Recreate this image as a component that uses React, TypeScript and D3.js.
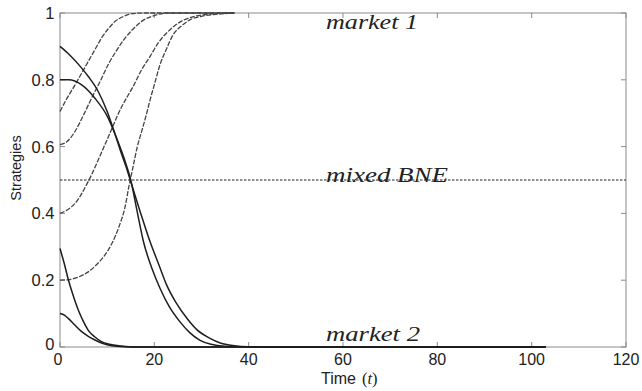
import React from "react";
import * as d3 from "d3";

// ---- data (t, strategy) ----
const market2A: [number, number][] = [
  [0, 0.9], [2, 0.875], [4.6, 0.835], [6, 0.81], [8.1, 0.765], [10, 0.705], [11.7, 0.636],
  [13, 0.58], [14.1, 0.536], [15, 0.495], [17, 0.405], [19.1, 0.315], [21, 0.245],
  [22.6, 0.186], [24.5, 0.135], [26.9, 0.086], [29, 0.052], [31.8, 0.026], [34, 0.012],
  [37, 0.004], [40, 0.001], [45, 0], [103, 0],
];
const market2B: [number, number][] = [
  [0, 0.8], [1.8, 0.8], [4.6, 0.785], [7.4, 0.745], [10.2, 0.686], [11.7, 0.636],
  [13.8, 0.556], [15, 0.5], [16.3, 0.41], [17.7, 0.315], [19.5, 0.235], [21.2, 0.176],
  [23.2, 0.12], [25.4, 0.076], [27.5, 0.043], [29.7, 0.02], [32, 0.008], [35, 0.002],
  [40, 0], [103, 0],
];
const market2C: [number, number][] = [
  [0, 0.295], [0.9, 0.25], [1.8, 0.2], [2.9, 0.15], [3.9, 0.11], [5, 0.075], [6, 0.05],
  [7.4, 0.03], [8.8, 0.016], [10.5, 0.008], [13, 0.003], [16, 0], [103, 0],
];
const market2D: [number, number][] = [
  [0, 0.1], [1, 0.095], [1.8, 0.085], [3.2, 0.065], [4.6, 0.046], [6, 0.032], [7.4, 0.021],
  [8.8, 0.012], [10.2, 0.006], [12, 0.002], [15, 0], [103, 0],
];
const market1A: [number, number][] = [
  [0, 0.705], [1.5, 0.745], [3.2, 0.785], [4.6, 0.82], [6, 0.855], [7.4, 0.89], [8.8, 0.925],
  [10.2, 0.952], [11.7, 0.975], [13.5, 0.99], [15.2, 0.998], [18, 1], [37, 1],
];
const market1B: [number, number][] = [
  [0, 0.606], [1.5, 0.615], [3.2, 0.646], [5, 0.695], [6.7, 0.745], [8.5, 0.795],
  [10.2, 0.845], [12, 0.888], [13.8, 0.925], [15.5, 0.952], [17.3, 0.975], [20.1, 0.993],
  [23, 1], [37, 1],
];
const market1C: [number, number][] = [
  [0, 0.4], [1.5, 0.41], [3.2, 0.43], [6, 0.496], [9.5, 0.605], [13.1, 0.72], [15.5, 0.78],
  [17.3, 0.83], [19.1, 0.87], [20.8, 0.91], [22.6, 0.94], [24.3, 0.962], [26.1, 0.978],
  [28.5, 0.99], [31.1, 0.996], [35, 1], [37, 1],
];
const market1D: [number, number][] = [
  [0, 0.2], [2, 0.202], [4, 0.21], [6, 0.225], [8, 0.25], [9.5, 0.275], [11, 0.31],
  [12.5, 0.36], [13.8, 0.42], [14.6, 0.48], [15.5, 0.54], [16.4, 0.6], [17.3, 0.645],
  [18.2, 0.69], [19.1, 0.74], [20.1, 0.79], [21.2, 0.845], [22.5, 0.89], [24, 0.935],
  [25.8, 0.962], [27.6, 0.98], [30, 0.99], [33, 0.996], [37, 1],
];
const mixedBNE: [number, number][] = [[0, 0.5], [120, 0.5]];

const xTicks = [0, 20, 40, 60, 80, 100, 120];
const yTicks = [0, 0.2, 0.4, 0.6, 0.8, 1];
const yTickLabels = ["0", "0.2", "0.4", "0.6", "0.8", "1"];

export default function App() {
  const W = 642, H = 391;
  const x = d3.scaleLinear().domain([0, 120]).range([60, 626]);
  const y = d3.scaleLinear().domain([0, 1]).range([347, 13]);
  const line = d3
    .line<[number, number]>()
    .x((d) => x(d[0]))
    .y((d) => y(d[1]))
    .curve(d3.curveMonotoneX);

  const solid = [market2A, market2B, market2C, market2D];
  const dashed = [market1A, market1B, market1C, market1D];
  const gray = "#8a8a8a";
  const sans = "'Liberation Sans', Arial, sans-serif";
  const serif = "'Liberation Serif', 'Times New Roman', serif";

  return (
    <svg width={W} height={H} style={{ position: "absolute", left: 0, top: 0, background: "#fff" }}>
      <rect x={0} y={0} width={W} height={H} fill="#fff" />
      {/* box */}
      <rect x={x(0)} y={y(1)} width={x(120) - x(0)} height={y(0) - y(1)} fill="none" stroke={gray} strokeWidth={1} />
      {/* ticks inside */}
      {xTicks.map((t) => (
        <g key={"xt" + t}>
          <line x1={x(t)} x2={x(t)} y1={y(0)} y2={y(0) - 5} stroke={gray} />
          <line x1={x(t)} x2={x(t)} y1={y(1)} y2={y(1) + 5} stroke={gray} />
          <text x={x(t) - (t === 0 ? 2 : 0)} y={365} textAnchor="middle" fontFamily={sans} fontSize={16} fill="#222">
            {t}
          </text>
        </g>
      ))}
      {yTicks.map((v, i) => (
        <g key={"yt" + v}>
          <line x1={x(0)} x2={x(0) + 5} y1={y(v)} y2={y(v)} stroke={gray} />
          <line x1={x(120)} x2={x(120) - 5} y1={y(v)} y2={y(v)} stroke={gray} />
          <text x={54.5} y={y(v) + (v === 0 ? 3 : 6)} textAnchor="end" fontFamily={sans} fontSize={16.5} fill="#222">
            {yTickLabels[i]}
          </text>
        </g>
      ))}
      {/* mixed BNE line */}
      <path d={line(mixedBNE) || ""} fill="none" stroke="#222" strokeWidth={1.2} strokeDasharray="2.5,1.5" />
      {/* market 1 dashed */}
      {dashed.map((s, i) => (
        <path key={"d" + i} d={line(s) || ""} fill="none" stroke="#444" strokeWidth={1.3} strokeDasharray="5,1.5" />
      ))}
      {/* market 2 solid */}
      {solid.map((s, i) => (
        <path key={"s" + i} d={line(s) || ""} fill="none" stroke="#1e1e1e" strokeWidth={1.5} />
      ))}
      {/* annotations */}
      <text x={326} y={29} fontFamily={serif} fontStyle="italic" fontSize={20} fill="#222" textLength={92} lengthAdjust="spacingAndGlyphs">
        market 1
      </text>
      <text x={326} y={182} fontFamily={serif} fontStyle="italic" fontSize={20} fill="#222" textLength={122} lengthAdjust="spacingAndGlyphs">
        mixed BNE
      </text>
      <text x={326} y={341} fontFamily={serif} fontStyle="italic" fontSize={20} fill="#222" textLength={94} lengthAdjust="spacingAndGlyphs">
        market 2
      </text>
      {/* axis labels */}
      <text x={321} y={384} fontFamily={sans} fontSize={16} fill="#222">
        Time
      </text>
      <text x={362} y={384} fontFamily={serif} fontSize={16.5} fill="#222">
        (<tspan fontStyle="italic">t</tspan>)
      </text>
      <text transform="translate(21,168) rotate(-90)" textAnchor="middle" fontFamily={sans} fontSize={14.5} fill="#222">
        Strategies
      </text>
    </svg>
  );
}
